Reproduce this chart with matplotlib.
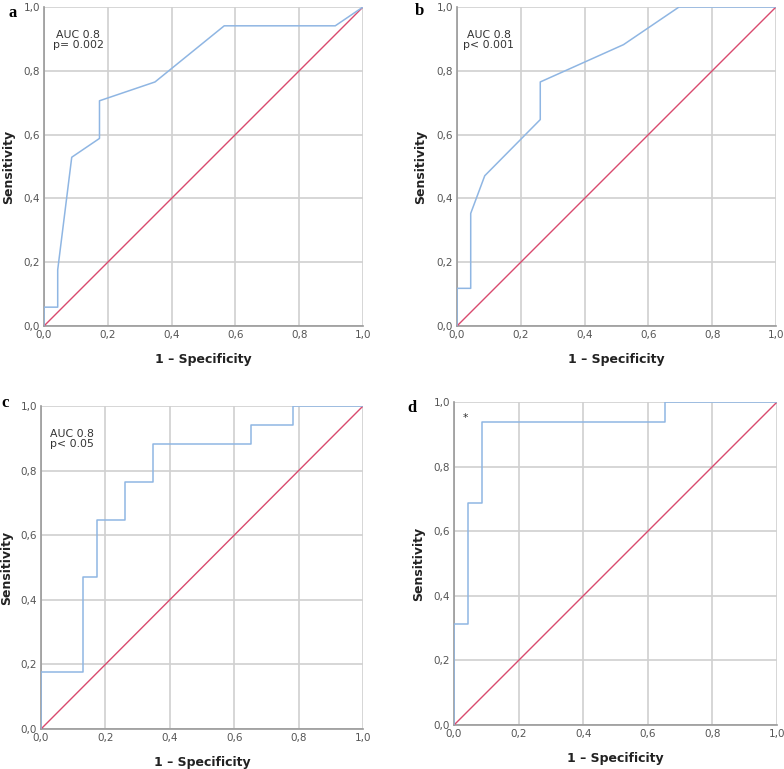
import matplotlib.pyplot as plt
from matplotlib.ticker import FixedLocator

# ROC curves (1 - specificity, sensitivity)
fpr_a = [0, 0, 0.043, 0.043, 0.087, 0.174, 0.174, 0.348, 0.565, 0.913, 1.0]
tpr_a = [0, 0.059, 0.059, 0.176, 0.529, 0.588, 0.706, 0.765, 0.941, 0.941, 1.0]

fpr_b = [0, 0, 0.043, 0.043, 0.087, 0.261, 0.261, 0.522, 0.696, 1.0]
tpr_b = [0, 0.118, 0.118, 0.353, 0.471, 0.647, 0.765, 0.882, 1.0, 1.0]

fpr_c = [0, 0, 0.130, 0.130, 0.174, 0.174, 0.261, 0.261, 0.348, 0.348,
         0.652, 0.652, 0.783, 0.783, 1.0]
tpr_c = [0, 0.176, 0.176, 0.471, 0.471, 0.647, 0.647, 0.765, 0.765, 0.882,
         0.882, 0.941, 0.941, 1.0, 1.0]

fpr_d = [0, 0, 0.043, 0.043, 0.087, 0.087, 0.652, 0.652, 1.0]
tpr_d = [0, 0.3125, 0.3125, 0.6875, 0.6875, 0.9375, 0.9375, 1.0, 1.0]

panel_letters = ["a", "b", "c", "d"]
annotations = ["AUC 0.8\np= 0.002", "AUC 0.8\np< 0.001", "AUC 0.8\np< 0.05", "*"]
tick_values = [0.0, 0.2, 0.4, 0.6, 0.8, 1.0]
tick_labels = ["0,0", "0,2", "0,4", "0,6", "0,8", "1,0"]

curves = [(fpr_a, tpr_a), (fpr_b, tpr_b), (fpr_c, tpr_c), (fpr_d, tpr_d)]

# axes boxes in figure fractions (left, bottom, width, height)
boxes = [
    [0.0561, 0.5761, 0.4069, 0.4148],
    [0.5829, 0.5761, 0.4069, 0.4148],
    [0.0523, 0.0520, 0.4107, 0.4200],
    [0.5791, 0.0572, 0.4120, 0.4200],
]
letter_pos = [(0.011, 0.9935), (0.529, 0.996), (0.002, 0.486), (0.519, 0.480)]
note_pos = [(0.107, 0.928), (0.10, 0.928), (0.096, 0.93), (0.034, 0.965)]
ylabel_x = [0.0191, 0.5446, 0.0170, 0.5420]  # right edge of y label, figure fraction

BLUE = "#8fb6e3"
RED = "#d94a6e"
GRID = "#d0d0d0"

fig = plt.figure(figsize=(7.84, 7.69), dpi=100)

for i, box in enumerate(boxes):
    ax = fig.add_axes(box)
    fpr, tpr = curves[i]
    ax.plot([0, 1], [0, 1], color=RED, lw=1.0, zorder=3)
    ax.plot(fpr, tpr, color=BLUE, lw=1.1, zorder=4)
    ax.set_xlim(0, 1)
    ax.set_ylim(0, 1)
    ax.xaxis.set_major_locator(FixedLocator(tick_values))
    ax.yaxis.set_major_locator(FixedLocator(tick_values))
    ax.set_xticklabels(tick_labels)
    ax.set_yticklabels(tick_labels)
    ax.tick_params(length=0, labelsize=7.5, labelcolor="#555555", pad=3)
    ax.grid(True, color=GRID, lw=1.2, zorder=0)
    for side in ["top", "right"]:
        ax.spines[side].set_visible(False)
    for side in ["left", "bottom"]:
        ax.spines[side].set_color("#999999")
        ax.spines[side].set_linewidth(1.2)
    ax.set_xlabel("1 – Specificity", fontsize=9, fontweight="bold",
                  color="#222222", labelpad=9)
    ax.set_ylabel("Sensitivity", fontsize=9, fontweight="bold",
                  color="#222222")
    ax.yaxis.set_label_coords(ylabel_x[i], box[1] + box[3] / 2,
                              transform=fig.transFigure)
    nx, ny = note_pos[i]
    ax.text(nx, ny, annotations[i], transform=ax.transAxes, ha="center",
            va="top", fontsize=7.8, color="#333333", linespacing=1.0,
            multialignment="center")
    lx, ly = letter_pos[i]
    fig.text(lx, ly, panel_letters[i], fontsize=12, fontweight="bold",
             family="Liberation Serif", ha="left", va="top")

fig.savefig("out.png", dpi=100, facecolor="white")
